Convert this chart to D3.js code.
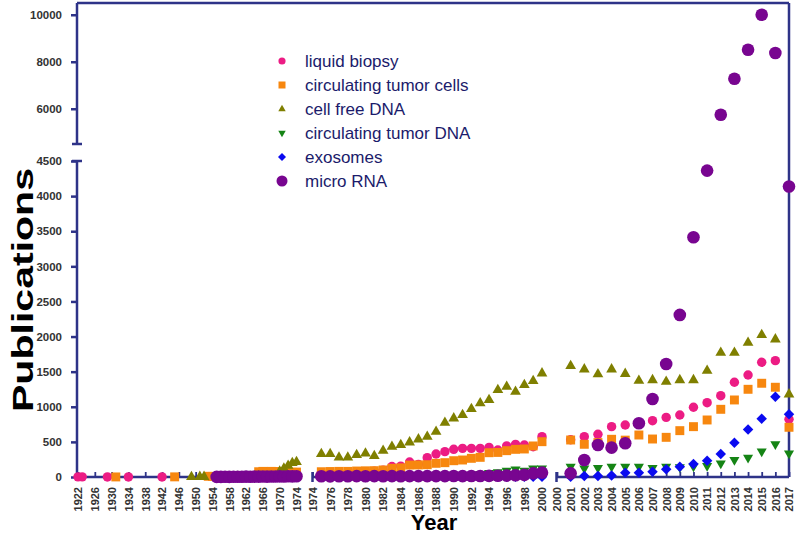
<!DOCTYPE html>
<html>
<head>
<meta charset="utf-8">
<script src="https://cdn.jsdelivr.net/npm/d3@7"></script>
<style>
	body { margin: 0; background: #fff; }
	svg { font-family: Arial, "Liberation Sans", sans-serif; }
	.tick text { font-weight: bold; fill: #333; }
</style>
</head>
<body>
<svg id="chart" width="800" height="534"></svg>
<script>
// values, [year, publications]
var liquidBiopsy = [[1922,2],[1923,2],[1929,1],[1934,1],[1942,1],[1960,3],[1965,4],[1970,6],[1974,8],
	[1975,60],[1976,62],[1977,66],[1978,68],[1979,72],[1980,76],[1981,82],[1982,95],[1983,150],[1984,155],
	[1985,214],[1986,180],[1987,275],[1988,328],[1989,361],[1990,394],[1991,408],[1992,408],[1993,408],
	[1994,422],[1995,385],[1996,442],[1997,465],[1998,456],[1999,432],[2000,574],
	[2001,530],[2002,574],[2003,608],[2004,717],[2005,741],[2006,765],[2007,802],[2008,849],[2009,883],
	[2010,993],[2011,1058],[2012,1158],[2013,1349],[2014,1453],[2015,1634],[2016,1657],[2017,822]];

var circulatingTumorCells = [[1931,1],[1945,2],[1953,10],[1954,8],[1958,5],[1962,10],[1965,75],[1966,80],
	[1967,78],[1968,80],[1969,78],[1970,75],[1971,60],[1972,62],[1973,66],[1974,70],
	[1975,75],[1976,78],[1977,80],[1978,80],[1979,85],[1980,88],[1981,90],[1982,100],[1983,124],[1984,130],
	[1985,170],[1986,172],[1987,175],[1988,195],[1989,204],[1990,232],[1991,242],[1992,266],[1993,280],
	[1994,346],[1995,350],[1996,375],[1997,394],[1998,399],[1999,442],[2000,503],
	[2001,527],[2002,466],[2003,490],[2004,537],[2005,525],[2006,598],[2007,541],[2008,565],[2009,660],
	[2010,717],[2011,812],[2012,964],[2013,1097],[2014,1249],[2015,1335],[2016,1278],[2017,708]];

var cellFreeDna = [[1949,2],[1951,3],[1952,3],[1960,5],[1965,10],[1970,80],[1971,120],[1972,160],[1973,200],[1974,215],
	[1975,328],[1976,328],[1977,280],[1978,280],[1979,313],[1980,337],[1981,299],[1982,375],[1983,432],
	[1984,456],[1985,494],[1986,537],[1987,574],[1988,645],[1989,774],[1990,836],[1991,883],[1992,969],
	[1993,1050],[1994,1097],[1995,1239],[1996,1286],[1997,1215],[1998,1311],[1999,1368],[2000,1477],
	[2001,1581],[2002,1534],[2003,1463],[2004,1534],[2005,1470],[2006,1372],[2007,1381],[2008,1358],
	[2009,1381],[2010,1381],[2011,1514],[2012,1771],[2013,1771],[2014,1913],[2015,2023],[2016,1961],[2017,1178]];

var circulatingTumorDna = [[1980,5],[1985,15],[1990,30],[1993,45],[1994,60],[1995,70],[1996,90],
	[1997,109],[1998,90],[1999,124],[2000,124],
	[2001,147],[2002,123],[2003,130],[2004,147],[2005,147],[2006,147],[2007,130],[2008,147],[2009,140],
	[2010,150],[2011,157],[2012,195],[2013,242],[2014,275],[2015,365],[2016,468],[2017,337]];

var exosomes = [[1995,2],[1996,3],[1997,3],[1998,4],[1999,5],[2000,5],
	[2001,5],[2002,14],[2003,14],[2004,20],[2005,62],[2006,62],[2007,76],[2008,109],[2009,147],
	[2010,185],[2011,232],[2012,328],[2013,489],[2014,675],[2015,831],[2016,1144],[2017,893]];

var microRna = [[1955,2],[1956,2],[1957,3],[1958,2],[1959,3],[1960,4],[1961,3],[1962,5],[1963,4],[1964,6],
	[1965,5],[1966,7],[1967,6],[1968,8],[1969,7],[1970,9],[1971,8],[1972,10],[1973,9],[1974,11],
	[1975,10],[1976,9],[1977,11],[1978,10],[1979,12],[1980,11],[1981,12],[1982,10],[1983,12],[1984,11],
	[1985,13],[1986,12],[1987,12],[1988,13],[1989,12],[1990,14],[1991,13],[1992,15],[1993,14],[1994,16],
	[1995,18],[1996,20],[1997,25],[1998,30],[1999,52],[2000,62],
	[2001,52],[2002,242],[2003,456],[2004,418],[2005,480],[2006,765],[2007,1111],[2008,1610],[2009,2308],
	[2010,3414],[2011,4363],[2012,5745],[2013,7277],[2014,8511],[2015,10000],[2016,8370],[2017,4136]];

var seriesNames = ['liquid biopsy', 'circulating tumor cells', 'cell free DNA',
	'circulating tumor DNA', 'exosomes', 'micro RNA'];
var seriesColors = ['#ec1c84', '#f7870f', '#7f7f00', '#158415', '#0a0af0', '#780590'];

var yTicksLow = [0, 500, 1000, 1500, 2000, 2500, 3000, 3500, 4000, 4500];
var yTicksHigh = [6000, 8000, 10000];
var xTicks1 = [1922, 1926, 1930, 1934, 1938, 1942, 1946, 1950, 1954, 1958, 1962, 1966, 1970, 1974];
var xTicks2 = [1974, 1976, 1978, 1980, 1982, 1984, 1986, 1988, 1990, 1992, 1994, 1996, 1998, 2000];
var xTicks3 = [2000, 2001, 2002, 2003, 2004, 2005, 2006, 2007, 2008, 2009, 2010, 2011, 2012, 2013,
	2014, 2015, 2016, 2017];

var axisColor = '#2e3388';
var svg = d3.select('#chart');

// broken y axis: two linear pieces
var yLow = d3.scaleLinear().domain([0, 4500]).range([477, 161]);
var yHigh = d3.scaleLinear().domain([4500, 10500]).range([144, 3]);
function y(v) { return v <= 4500 ? yLow(v) : yHigh(v); }

// broken x axis: three pieces
var xScales = [
	d3.scaleLinear().domain([1922, 1974]).range([78, 296.5]),
	d3.scaleLinear().domain([1974, 2000]).range([312.5, 542]),
	d3.scaleLinear().domain([2000, 2017]).range([557, 789])
];
function x(year) {
	if (year <= 1974) return xScales[0](year);
	if (year <= 2000) return xScales[1](year);
	return xScales[2](year);
}

// y axes
var yAxisLow = svg.append('g').attr('transform', 'translate(77,0)')
	.call(d3.axisLeft(yLow).tickValues(yTicksLow).tickFormat(d3.format('d'))
		.tickSize(6).tickPadding(9).tickSizeOuter(0));
var yAxisHigh = svg.append('g').attr('transform', 'translate(77,0)')
	.call(d3.axisLeft(yHigh).tickValues(yTicksHigh).tickFormat(d3.format('d'))
		.tickSize(6).tickPadding(9).tickSizeOuter(0));
[yAxisLow, yAxisHigh].forEach(function(g) {
	g.select('.domain').remove();
	g.selectAll('.tick line').attr('stroke', axisColor).attr('stroke-width', 2.5);
	g.selectAll('.tick text').style('font-size', '11.5px');
});

// x axes
[xTicks1, xTicks2, xTicks3].forEach(function(ticks, i) {
	var g = svg.append('g').attr('transform', 'translate(0,477)')
		.call(d3.axisBottom(xScales[i]).tickValues(ticks).tickFormat(d3.format('d'))
			.tickSize(-5).tickSizeOuter(0));
	g.select('.domain').remove();
	g.selectAll('.tick line').attr('stroke', axisColor).attr('stroke-width', 1.8);
	g.selectAll('.tick text')
		.attr('transform', 'rotate(-90)')
		.attr('x', -10)
		.attr('y', 0)
		.attr('dy', '.35em')
		.style('text-anchor', 'end')
		.style('font-size', '11px');
});

// frame and axis lines with break caps
var lines = [
	'M77,3H789', 'M789,3V477',
	'M77,3V144', 'M72,144H82', 'M77,161V477', 'M72,161H82',
	'M77,477H301',
	'M312.5,472V482', 'M312.5,477H546',
	'M556.5,472V482', 'M556.5,477H789'
];
svg.append('g').selectAll('path')
	.data(lines)
	.enter().append('path')
	.attr('d', function(d) { return d; })
	.attr('fill', 'none')
	.attr('stroke', axisColor)
	.attr('stroke-width', 2.5);

// markers
var symbols = [
	{ type: d3.symbolCircle, size: 70, rot: 0, legendSize: 40 },
	{ type: d3.symbolSquare, size: 80, rot: 0, legendSize: 49 },
	{ type: d3.symbolTriangle, size: 50, rot: 0, legendSize: 24 },
	{ type: d3.symbolTriangle, size: 44, rot: 180, legendSize: 24 },
	{ type: d3.symbolSquare, size: 55, rot: 45, legendSize: 32 },
	{ type: d3.symbolCircle, size: 125, rot: 0, legendSize: 95 }
];
var allSeries = [liquidBiopsy, circulatingTumorCells, cellFreeDna, circulatingTumorDna, exosomes, microRna];

allSeries.forEach(function(data, i) {
	var sym = d3.symbol().type(symbols[i].type).size(symbols[i].size);
	svg.append('g').attr('class', 'series')
		.selectAll('path')
		.data(data)
		.enter().append('path')
		.attr('d', sym)
		.attr('fill', seriesColors[i])
		.attr('transform', function(d) {
			return 'translate(' + x(d[0]) + ',' + y(d[1]) + ') rotate(' + symbols[i].rot + ')';
		});
});

// legend
var legend = svg.append('g').attr('class', 'legend');
var legendRows = legend.selectAll('g')
	.data(seriesNames)
	.enter().append('g')
	.attr('transform', function(d, i) { return 'translate(282,' + (61 + i * 24) + ')'; });
legendRows.append('path')
	.attr('d', function(d, i) { return d3.symbol().type(symbols[i].type).size(symbols[i].legendSize)(); })
	.attr('fill', function(d, i) { return seriesColors[i]; })
	.attr('transform', function(d, i) { return 'rotate(' + symbols[i].rot + ')'; });
legendRows.append('text')
	.attr('x', 23)
	.attr('dy', '.35em')
	.style('font-size', '17px')
	.style('fill', '#1b1b6b')
	.text(function(d) { return d; });

// axis titles
svg.append('text')
	.attr('transform', 'translate(33,290) rotate(-90)')
	.style('text-anchor', 'middle')
	.style('font-size', '29px')
	.style('font-weight', 'bold')
	.attr('textLength', 244)
	.attr('lengthAdjust', 'spacingAndGlyphs')
	.text('Publications');

svg.append('text')
	.attr('x', 434)
	.attr('y', 530)
	.style('text-anchor', 'middle')
	.style('font-size', '22px')
	.style('font-weight', 'bold')
	.text('Year');
</script>
</body>
</html>
